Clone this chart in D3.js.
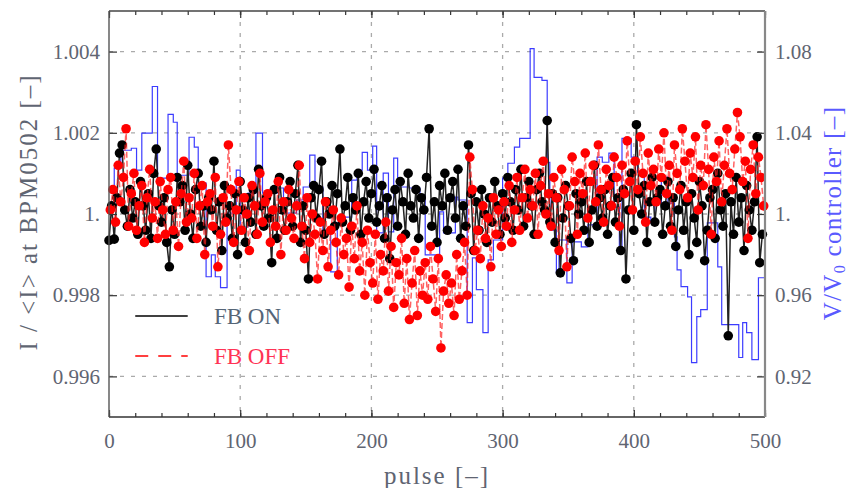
<!DOCTYPE html>
<html>
<head>
<meta charset="utf-8">
<script src="https://cdn.jsdelivr.net/npm/d3@7"></script>
<style>
  body { margin: 0; background: #fff; }
  text { font-family: "Liberation Serif", serif; }
</style>
</head>
<body>
<div id="chart"></div>
<script>
// Data
var pulsesOn = d3.range(0, 500, 2);
var pulsesOff = d3.range(1, 500, 2);

var fbOn = [
  0.99935, 1.0002, 0.99938, 1.0004, 1.0015, 1.0017, 1.0001, 0.9997, 1.0006, 0.9999,
  1.0003, 0.9995, 1.0008, 1.0002, 0.9996, 1.0005, 0.9994, 1.0010, 1.0016, 1.0002,
  0.9998, 1.0004, 0.9993, 0.9987, 1.0001, 0.9995, 1.0009, 1.0003, 1.0007, 0.9996,
  1.0012, 1.0000, 0.9994, 1.0006, 1.0010, 0.9997, 1.0002, 0.9993, 1.0004, 1.0001,
  1.0013, 0.9996, 1.0003, 0.9991, 1.0007, 0.9999, 1.0002, 0.9994, 1.0005, 0.9990,
  1.0008, 1.0001, 0.9993, 1.0004, 0.9998, 1.0006, 0.9995, 1.0011, 1.0002, 0.9997,
  1.0004, 0.9999, 0.9988, 1.0006, 0.9994, 1.0009, 1.0001, 0.9996, 1.0003, 1.0008,
  0.9997, 1.0005, 1.0012, 0.9993, 1.0002, 0.9996, 0.9984, 1.0004, 1.0007, 0.9999,
  1.0006, 1.0013, 0.9995, 1.0003, 1.0000, 1.0007, 0.9997, 1.0005, 1.0016, 0.9998,
  1.0002, 1.0009, 0.9996, 1.0004, 1.0001, 1.0010, 0.9995, 1.0003, 1.0008, 0.9999,
  1.0005, 1.0011, 0.9998, 1.0002, 1.0007, 0.9994, 1.0004, 0.9989, 1.0001, 1.0006,
  0.9997, 1.0008, 1.0003, 0.9995, 1.0010, 1.0002, 0.9999, 1.0006, 0.9994, 1.0004,
  1.0001, 1.0009, 1.0021, 0.9997, 1.0003, 0.9993, 1.0007, 1.0002, 1.0010, 0.9996,
  1.0004, 1.0008, 0.9999, 1.0011, 0.9994, 1.0002, 0.9997, 1.0017, 1.0005, 0.9991,
  1.0003, 0.9996, 1.0006, 1.0000, 0.9993, 1.0004, 0.9998, 1.0008, 1.0002, 0.9995,
  1.0005, 0.9999, 1.0009, 1.0003, 0.9996, 1.0006, 1.0001, 1.0011, 0.9997, 1.0004,
  1.0008, 1.0002, 0.9995, 1.0006, 1.0010, 1.0003, 1.0001, 1.0023, 0.9998, 1.0005,
  0.9993, 1.0004, 0.99855, 0.9999, 1.0007, 1.0002, 0.9994, 0.99885, 1.0005, 1.0000,
  1.0003, 0.9996, 1.0008, 0.9993, 1.0001, 1.0012, 0.9997, 1.0004, 0.9999, 1.0006,
  0.9995, 1.0002, 1.0009, 0.9998, 1.0004, 0.9991, 1.0006, 0.9984, 1.0001, 1.0010,
  0.9996, 1.0022, 1.0005, 1.0000, 1.0007, 0.9993, 1.0003, 1.0009, 0.9998, 1.0004,
  1.0006, 0.9995, 1.0002, 1.0008, 0.9997, 1.0004, 0.9992, 1.0001, 1.0007, 0.9996,
  1.0003, 0.9990, 1.0005, 0.9999, 0.9993, 1.0008, 1.0002, 0.99885, 0.9996, 1.0004,
  1.0006, 0.9994, 1.0010, 1.0001, 0.9997, 1.0005, 0.9970, 1.0003, 0.9995, 1.0009,
  0.9998, 1.0004, 0.9991, 1.0007, 1.0001, 0.9996, 1.0003, 1.0019, 0.9988, 0.9995
];

var fbOff = [
  1.0001, 1.0006, 0.9998, 1.0012, 1.0003, 1.0009, 1.0021, 0.9997, 1.0005, 1.0010,
  0.9996, 1.0002, 1.0007, 0.9993, 1.0004, 1.0011, 0.9999, 1.0003, 0.9994, 1.0008,
  1.0001, 0.9995, 1.0006, 1.0009, 0.9996, 1.0003, 0.9992, 1.0005, 1.0013, 0.9998,
  1.0004, 0.9999, 1.0010, 0.9994, 1.0002, 1.0007, 0.9990, 1.0003, 1.0005, 0.9997,
  1.0009, 0.9987, 0.9995, 1.0004, 0.9998, 1.0017, 1.0006, 0.9993, 1.0001, 1.0008,
  0.9996, 1.0004, 1.0000, 0.9991, 1.0007, 1.0002, 0.9995, 1.0010, 0.9998, 1.0003,
  1.0005, 0.9993, 1.0001, 0.9997, 1.0008, 0.9990, 1.0003, 0.9996, 1.0006, 0.9999,
  0.9994, 1.0002, 1.0012, 0.9997, 0.9989, 1.0004, 0.9993, 1.0000, 0.9995, 0.9984,
  0.9998, 0.9991, 1.0003, 0.9987, 0.9996, 1.0001, 0.9993, 0.9985, 0.9999, 0.9990,
  0.9994, 0.9982, 0.9997, 0.9989, 1.0002, 0.9986, 0.9993, 0.9980, 0.9996, 0.9988,
  0.9983, 0.9995, 0.9979, 0.9990, 0.9986, 0.9998, 0.9981, 0.9992, 0.9977, 0.9988,
  0.9985, 0.9994, 0.9978, 0.9989, 0.9974, 0.9983, 0.9991, 0.9975, 0.9986, 0.9980,
  0.9988, 0.9979, 0.9992, 0.9984, 0.9976, 0.9989, 0.9967, 0.9981, 0.9985, 0.9978,
  0.9983, 0.9975, 0.9990, 0.9979, 0.9986, 0.9993, 0.9980, 1.0014, 1.0006, 0.9991,
  0.9996, 0.9989, 1.0002, 0.9994, 0.9999, 0.9987, 1.0004, 0.9995, 1.0001, 0.9992,
  1.0003, 0.9997, 1.0007, 0.9993, 1.0001, 1.0009, 0.9996, 1.0004, 1.0011, 0.9999,
  1.0006, 1.0002, 1.0010, 0.9995, 1.0007, 1.0013, 1.0000, 1.0005, 0.9997, 1.0009,
  1.0004, 0.9991, 1.0011, 1.0006, 0.9987, 1.0002, 1.0014, 1.0008, 0.9995, 1.0010,
  1.0005, 1.0015, 0.9999, 1.0008, 1.0012, 1.0003, 1.0017, 1.0006, 0.9998, 1.0011,
  1.0007, 1.0002, 1.0014, 1.0009, 0.9997, 1.0012, 1.0005, 1.0018, 1.0008, 1.0001,
  1.0013, 1.0006, 1.0019, 1.0010, 0.9998, 1.0015, 1.0007, 1.0011, 1.0003, 1.0016,
  1.0009, 1.0020, 1.0005, 1.0012, 0.9996, 1.0017, 1.0010, 1.0006, 1.0021, 1.0013,
  1.0004, 1.0015, 1.0009, 1.0019, 1.0001, 1.0012, 1.0007, 1.0022, 1.0011, 0.9995,
  1.0014, 1.0008, 1.0018, 1.0003, 1.0012, 1.0021, 1.0010, 1.0006, 1.0016, 1.0025,
  1.0019, 1.0008, 1.0013, 0.9994, 1.0011, 1.0017, 1.0005, 1.0014, 1.0009, 1.0002
];

// Controller output V/V0 (step changes: start pulse and level)
var ctrlStart = [0, 4, 9, 17, 21, 25, 33, 37, 45, 49, 52, 61, 65, 68, 74, 78, 81, 85, 90, 97,
  100, 106, 112, 117, 128, 133, 143, 148, 153, 157, 163, 169, 174, 180, 185, 189, 193, 197, 201, 204,
  209, 213, 217, 220, 229, 237, 241, 252, 255, 264, 266, 273, 277, 280, 285, 289, 293, 300, 304, 309,
  313, 321, 324, 330, 334, 336, 341, 343, 349, 353, 360, 365, 372, 376, 381, 385, 389, 391, 398, 403,
  408, 413, 416, 421, 426, 431, 433, 436, 441, 444, 448, 451, 456, 464, 467, 480, 483, 486, 490, 495, 500];
var ctrlLevel = [1.0044, 1.0226, 1.0314, 1.0324, 1.0216, 1.0398, 1.0628, 1.0177, 1.0491, 1.0452, 1.0191, 1.0378, 1.0329, 1.0152, 0.9691, 0.9799, 0.9691, 0.9637, 1.0005, 1.0216,
  0.9936, 1.0103, 1.0398, 1.0103, 1.0128, 1.0005, 1.0069, 1.0133, 1.0290, 1.0133, 0.9921, 0.9715, 0.9956, 0.9985, 1.0167, 1.0216, 1.0304, 1.0216, 1.0334, 0.9907,
  1.0201, 0.9912, 1.0275, 1.0133, 1.0128, 1.0093, 0.9799, 1.0010, 0.9907, 1.0083, 1.0069, 0.9465, 0.9784, 0.9627, 0.9416, 0.9774, 0.9872, 1.0177, 1.0250, 1.0329,
  1.0373, 1.0815, 1.0673, 1.0658, 1.0255, 0.9921, 0.9710, 0.9872, 0.9661, 0.9863, 0.9838, 0.9946, 1.0280, 1.0255, 1.0300, 1.0034, 0.9823, 1.0373, 1.0280, 1.0206,
  0.9985, 0.9956, 1.0054, 1.0182, 1.0054, 0.9887, 0.9725, 0.9642, 0.9592, 0.9268, 0.9494, 0.9529, 0.9956, 0.9740, 0.9455, 0.9293, 0.9465, 0.9416, 0.9283, 0.9686, 0.9686];

var xTicks = [0, 100, 200, 300, 400, 500];
var xMinor = d3.range(0, 501, 20);
var leftTicks = [0.996, 0.998, 1.0, 1.002, 1.004];
var leftLabels = ["0.996", "0.998", "1.", "1.002", "1.004"];
var rightTicks = [0.92, 0.96, 1.0, 1.04, 1.08];
var rightLabels = ["0.92", "0.96", "1.", "1.04", "1.08"];

// Margin convention
var margin = {top: 11, right: 85, bottom: 71, left: 109};
var width = 850 - margin.left - margin.right;
var height = 488 - margin.top - margin.bottom;

var svg = d3.select("#chart")
            .append("svg")
            .attr("width", 850)
            .attr("height", 488)
            .append("g")
            .attr("transform", "translate(" + margin.left + "," + margin.top + ")");

// Scales
var x = d3.scaleLinear().domain([0, 500]).range([0, width]);
var y = d3.scaleLinear().domain([0.995, 1.005]).range([height, 0]);
var yR = d3.scaleLinear().domain([0.90, 1.10]).range([height, 0]);

var tickColor = "#5f6572";

// Grid
svg.append("g").selectAll("line")
   .data([100, 200, 300, 400]).enter().append("line")
   .attr("x1", d => x(d)).attr("x2", d => x(d))
   .attr("y1", 0).attr("y2", height)
   .attr("stroke", "#aaa").attr("stroke-width", 1.3).attr("stroke-dasharray", "4,7");
svg.append("g").selectAll("line")
   .data(leftTicks).enter().append("line")
   .attr("x1", 0).attr("x2", width)
   .attr("y1", d => y(d)).attr("y2", d => y(d))
   .attr("stroke", "#aaa").attr("stroke-width", 1.3).attr("stroke-dasharray", "4,7");

// Controller step line
var ctrlData = ctrlStart.map((p, i) => ({p: p, v: ctrlLevel[i]}));
svg.append("path")
   .datum(ctrlData)
   .attr("fill", "none")
   .attr("stroke", "#1a1aff")
   .attr("stroke-opacity", 0.85)
   .attr("stroke-width", 1.2)
   .attr("d", d3.line().curve(d3.curveStepAfter).x(d => x(d.p)).y(d => yR(d.v)));

// FB ON series
var onData = pulsesOn.map((p, i) => ({p: p, v: fbOn[i]}));
svg.append("path")
   .datum(onData)
   .attr("fill", "none")
   .attr("stroke", "#222")
   .attr("stroke-width", 1.5)
   .attr("d", d3.line().x(d => x(d.p)).y(d => y(d.v)));
svg.append("g").selectAll("circle")
   .data(onData).enter().append("circle")
   .attr("cx", d => x(d.p)).attr("cy", d => y(d.v))
   .attr("r", 4.8).attr("fill", "#000");

// FB OFF series
var offData = pulsesOff.map((p, i) => ({p: p, v: fbOff[i]}));
svg.append("path")
   .datum(offData)
   .attr("fill", "none")
   .attr("stroke", "#ff2020")
   .attr("stroke-opacity", 0.7)
   .attr("stroke-width", 1.5)
   .attr("stroke-dasharray", "6,3")
   .attr("d", d3.line().x(d => x(d.p)).y(d => y(d.v)));
svg.append("g").selectAll("circle")
   .data(offData).enter().append("circle")
   .attr("cx", d => x(d.p)).attr("cy", d => y(d.v))
   .attr("r", 4.8).attr("fill", "#ff0000");

// Axes
function styleAxis(g) {
  g.select(".domain").remove();
  g.selectAll(".tick line").attr("stroke", "#333").attr("stroke-width", 1.2);
  g.selectAll("text").attr("fill", tickColor).attr("font-size", 21)
   .attr("font-family", "Liberation Serif, serif");
}

svg.append("g").attr("transform", "translate(0," + height + ")")
   .call(d3.axisBottom(x).tickValues(xTicks).tickFormat(d3.format("d")).tickSizeInner(-7).tickSizeOuter(0).tickPadding(16))
   .call(styleAxis);
svg.append("g").attr("transform", "translate(0," + height + ")")
   .call(d3.axisBottom(x).tickValues(xMinor).tickFormat("").tickSizeInner(-4).tickSizeOuter(0))
   .call(styleAxis);
svg.append("g")
   .call(d3.axisTop(x).tickValues(xTicks).tickFormat("").tickSizeInner(-7).tickSizeOuter(0))
   .call(styleAxis);
svg.append("g")
   .call(d3.axisTop(x).tickValues(xMinor).tickFormat("").tickSizeInner(-4).tickSizeOuter(0))
   .call(styleAxis);
svg.append("g")
   .call(d3.axisLeft(y).tickValues(leftTicks).tickFormat((d, i) => leftLabels[i]).tickSizeInner(-8).tickSizeOuter(0).tickPadding(9))
   .call(styleAxis);
svg.append("g").attr("transform", "translate(" + width + ",0)")
   .call(d3.axisRight(yR).tickValues(rightTicks).tickFormat((d, i) => rightLabels[i]).tickSizeInner(-8).tickSizeOuter(0).tickPadding(10))
   .call(styleAxis);

// Frame
svg.append("line").attr("x1", 0).attr("x2", width).attr("y1", 0).attr("y2", 0).attr("stroke", "#444").attr("stroke-width", 1.4);
svg.append("line").attr("x1", 0).attr("x2", width).attr("y1", height).attr("y2", height).attr("stroke", "#333").attr("stroke-width", 1.4);
svg.append("line").attr("x1", 0).attr("x2", 0).attr("y1", 0).attr("y2", height).attr("stroke", "#555").attr("stroke-width", 1.4);
svg.append("line").attr("x1", width).attr("x2", width).attr("y1", 0).attr("y2", height).attr("stroke", "#888").attr("stroke-width", 2.2);

// Axis titles
svg.append("text")
   .attr("x", width / 2).attr("y", height + 67)
   .attr("text-anchor", "middle").attr("font-size", 25).attr("letter-spacing", 2).attr("fill", tickColor)
   .text("pulse [–]");
svg.append("text")
   .attr("transform", "translate(" + (-72) + "," + (height / 2 - 2) + ") rotate(-90)")
   .attr("text-anchor", "middle").attr("font-size", 25).attr("letter-spacing", 2).attr("fill", tickColor)
   .text("I / <I> at BPM0502 [–]");
var rt = svg.append("text")
   .attr("transform", "translate(" + (width + 76) + "," + (height / 2 - 1) + ") rotate(-90)")
   .attr("text-anchor", "middle").attr("font-size", 25).attr("letter-spacing", 1.3).attr("fill", "#5a5aff");
rt.append("tspan").text("V/V");
rt.append("tspan").attr("font-size", 16).attr("dy", 4).text("0");
rt.append("tspan").attr("dy", -4).text(" controller [–]");

// Legend
var legend = svg.append("g");
legend.append("line").attr("x1", x(20)).attr("x2", x(60)).attr("y1", 305).attr("y2", 305)
      .attr("stroke", "#000").attr("stroke-width", 1.4);
legend.append("text").attr("x", x(80)).attr("y", 313).attr("font-size", 23).attr("fill", "#556577").text("FB ON");
legend.append("line").attr("x1", x(20)).attr("x2", x(60)).attr("y1", 345).attr("y2", 345)
      .attr("stroke", "#ff0000").attr("stroke-width", 1.4).attr("stroke-dasharray", "13,10");
legend.append("text").attr("x", x(80)).attr("y", 353).attr("font-size", 23).attr("fill", "#ff3355").text("FB OFF");
</script>
</body>
</html>
